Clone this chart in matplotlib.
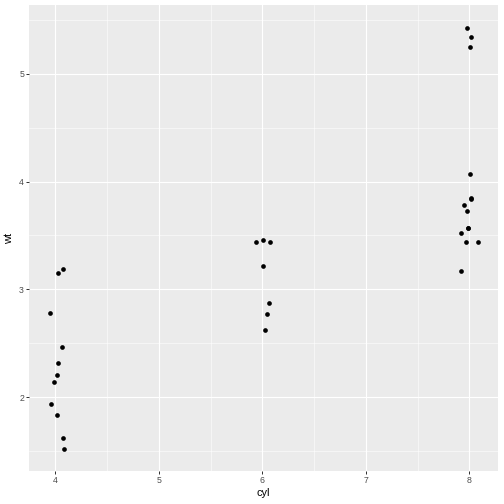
import matplotlib
matplotlib.use("Agg")
import matplotlib.pyplot as plt
from matplotlib.ticker import MultipleLocator

plt.rcParams["font.family"] = ["Liberation Sans", "DejaVu Sans"]

# jittered cyl positions and weights
cyl = [4.077, 4.029, 3.946, 4.068, 4.029, 4.016, 3.990, 3.958, 4.019, 4.077, 4.084,
       6.003, 5.943, 6.074, 6.010, 6.065, 6.048, 6.026,
       7.974, 8.020, 8.006, 8.006, 8.013, 8.013, 7.945, 7.974, 7.990, 7.990,
       7.920, 7.965, 8.080, 7.915]
wt = [3.19, 3.15, 2.78, 2.465, 2.32, 2.2, 2.14, 1.935, 1.835, 1.615, 1.513,
      3.46, 3.44, 3.44, 3.215, 2.875, 2.77, 2.62,
      5.424, 5.345, 5.25, 4.07, 3.845, 3.84, 3.78, 3.73, 3.57, 3.57,
      3.52, 3.435, 3.44, 3.17]

fig = plt.figure(figsize=(7, 7), dpi=72)
ax = fig.add_axes([29 / 504, 33 / 504, 469 / 504, 466 / 504])
ax.set_facecolor("#EBEBEB")

ax.set_xlim(3.746, 8.277)
ax.set_ylim(1.313, 5.64)

ax.xaxis.set_major_locator(MultipleLocator(1))
ax.xaxis.set_minor_locator(MultipleLocator(0.5))
ax.yaxis.set_major_locator(MultipleLocator(1))
ax.yaxis.set_minor_locator(MultipleLocator(0.5))

ax.grid(True, which="major", color="white", linewidth=1.1)
ax.grid(True, which="minor", color="white", linewidth=0.55)
ax.set_axisbelow(True)

ax.scatter(cyl, wt, s=22, color="black", zorder=3, linewidths=0)

for s in ax.spines.values():
    s.set_visible(False)

ax.tick_params(axis="both", which="major", length=2.75, width=1.0, color="#333333",
               labelcolor="#4D4D4D", labelsize=8.8, pad=2.2)
ax.tick_params(axis="both", which="minor", length=0)

ax.set_xlabel("cyl", fontsize=11, color="black", labelpad=3)
ax.set_ylabel("wt", fontsize=11, color="black", labelpad=5)

fig.savefig("out.png", dpi=72)
